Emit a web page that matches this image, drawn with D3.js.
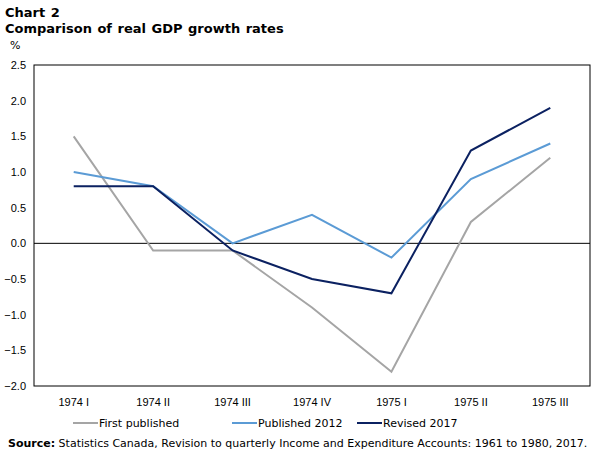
<!DOCTYPE html>
<html><head><meta charset="utf-8">
<script src="https://cdn.jsdelivr.net/npm/d3@7"></script>
<style>body{margin:0;background:#fff}svg{font-family:Verdana,"DejaVu Sans",sans-serif}</style>
</head><body>
<svg id="c" width="605" height="455"></svg>
<script>
const categories = ["1974 I","1974 II","1974 III","1974 IV","1975 I","1975 II","1975 III"];
const firstPublished = [1.5,-0.1,-0.1,-0.9,-1.8,0.3,1.2];
const published2012 = [1.0,0.8,0.0,0.4,-0.2,0.9,1.4];
const revised2017 = [0.8,0.8,-0.1,-0.5,-0.7,1.3,1.9];
const yTicks = [2.5,2.0,1.5,1.0,0.5,0.0,-0.5,-1.0,-1.5,-2.0];
const seriesNames = ["First published","Published 2012","Revised 2017"];
const colors = ["#A5A5A5","#5B9BD5","#0B2161"];
const series = [firstPublished, published2012, revised2017];

const svg = d3.select("#c");
const L=34,R=590,T=65,B=386;
const x = d3.scaleBand().domain(categories).range([L,R]);
const y = d3.scaleLinear().domain([-2,2.5]).range([B,T]);

svg.append("text").attr("x",5).attr("y",17).attr("font-weight","bold").attr("font-size",13).attr("word-spacing",1).text("Chart 2");
svg.append("text").attr("x",5).attr("y",33).attr("font-weight","bold").attr("font-size",13).attr("word-spacing",1).text("Comparison of real GDP growth rates");
svg.append("text").attr("x",10).attr("y",49).attr("font-size",11).text("%");

svg.append("rect").attr("x",L).attr("y",T).attr("width",R-L).attr("height",B-T).attr("fill","none").attr("stroke","#000").attr("stroke-width",1);

const ya = svg.append("g").attr("transform",`translate(${L},0)`).call(d3.axisLeft(y).tickValues(yTicks).tickFormat(d3.format(".1f")).tickSize(0).tickPadding(8));
ya.select(".domain").remove();
ya.selectAll("text").attr("font-size",11).attr("font-family",null).attr("fill","#000");

const xa = svg.append("g").attr("transform",`translate(0,${B})`).call(d3.axisBottom(x).tickSize(0).tickPadding(12));
xa.select(".domain").remove();
xa.selectAll("text").attr("font-size",11).attr("font-family",null).attr("fill","#000");

svg.append("line").attr("x1",L).attr("x2",R).attr("y1",y(0)).attr("y2",y(0)).attr("stroke","#000").attr("stroke-width",1);

const line = d3.line().x((d,i)=>x(categories[i])+x.bandwidth()/2).y(d=>y(d));
series.forEach((s,i)=>{
  svg.append("path").datum(s).attr("d",line).attr("fill","none").attr("stroke",colors[i]).attr("stroke-width",2).attr("stroke-linejoin","miter");
});

const legX=[73,232,357];
seriesNames.forEach((n,i)=>{
  svg.append("line").attr("x1",legX[i]).attr("x2",legX[i]+25).attr("y1",423).attr("y2",423).attr("stroke",colors[i]).attr("stroke-width",2);
  svg.append("text").attr("x",legX[i]+26).attr("y",427).attr("font-size",11).text(n);
});

const src = svg.append("text").attr("x",8).attr("y",447).attr("font-size",11);
src.append("tspan").attr("font-weight","bold").text("Source:");
src.append("tspan").text(" Statistics Canada, Revision to quarterly Income and Expenditure Accounts: 1961 to 1980, 2017.");
</script>
</body></html>
